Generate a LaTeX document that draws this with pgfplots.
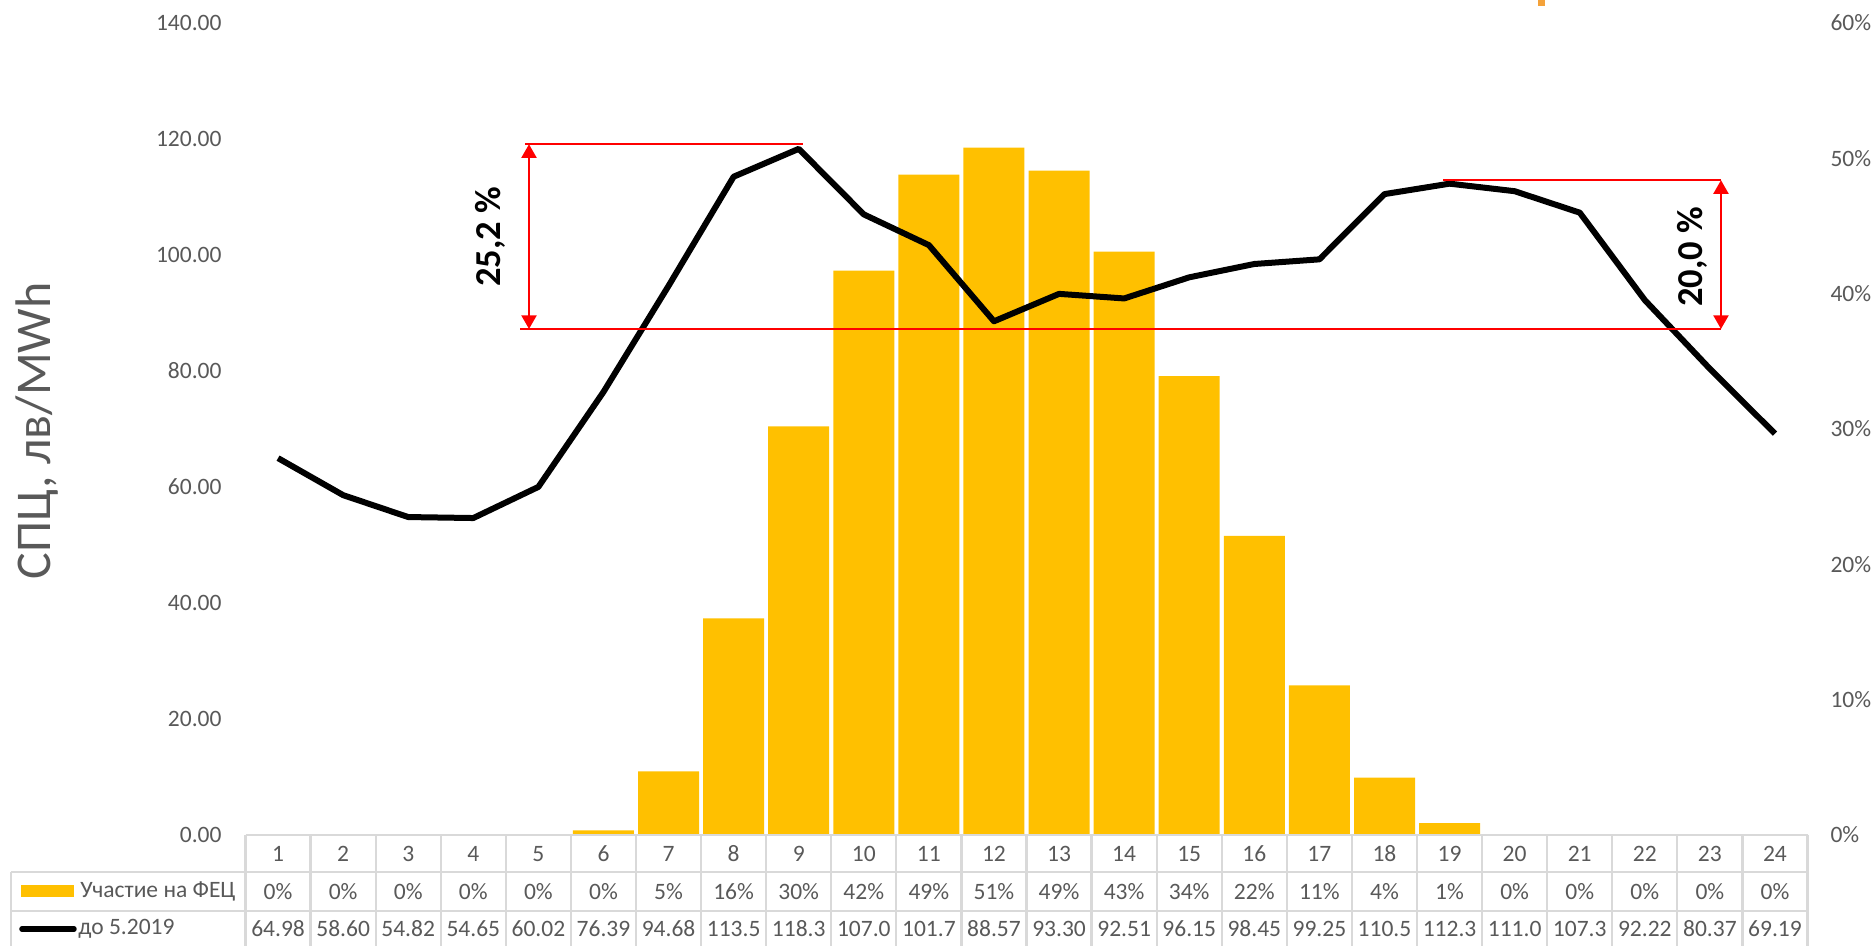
\documentclass[border=0pt]{standalone}
\usepackage{pgfplots}
\pgfplotsset{compat=1.18}
\usepackage{pgfplotstable}
\usepackage{fontspec}
\setmainfont{Carlito}
\usetikzlibrary{arrows.meta}
\definecolor{barc}{HTML}{FFC000}
\definecolor{txt}{HTML}{595959}
\definecolor{gridc}{HTML}{D9D9D9}
\definecolor{topc}{HTML}{F4A23A}

% hour, share of PV (%), price
\pgfplotstableread{
h pct spc
1 0 64.98
2 0 58.60
3 0 54.82
4 0 54.65
5 0 60.02
6 0.35 76.39
7 4.7 94.68
8 16.0 113.5
9 30.2 118.3
10 41.7 107.0
11 48.8 101.7
12 50.8 88.57
13 49.1 93.30
14 43.1 92.51
15 33.9 96.15
16 22.1 98.45
17 11.05 99.25
18 4.24 110.5
19 0.88 112.3
20 0 111.0
21 0 107.3
22 0 92.22
23 0 80.37
24 0 69.19
}\datatbl

\newcommand{\tfont}{\fontsize{9.4bp}{11bp}\selectfont}

\begin{document}
\begin{tikzpicture}
\pgfplotsset{base/.style={
    scale only axis, width=624.8bp, height=324.8bp,
    xmin=0.5, xmax=24.5, xtick=\empty,
    axis line style={draw=none}, major tick length=0pt,
    tick label style={font=\tfont, text=txt},
    clip=false}}

\begin{axis}[base,
    ymin=0, ymax=60, ytick={0,10,...,60},
    yticklabels={0\%,10\%,20\%,30\%,40\%,50\%,60\%},
    yticklabel pos=right,
    yticklabel style={anchor=west, inner sep=0pt, xshift=9bp}]
\addplot[ybar, bar width=24.4bp, bar shift=0pt, fill=barc, draw=none]
    table[x=h, y=pct]{\datatbl};
\end{axis}

\begin{axis}[base,
    ymin=0, ymax=140, ytick={0,20,...,140},
    yticklabels={0.00,20.00,40.00,60.00,80.00,100.00,120.00,140.00},
    yticklabel pos=left,
    yticklabel style={anchor=east, inner sep=0pt, xshift=-9.4bp},
    ylabel={СПЦ, лв/MWh},
    ylabel style={at={(axis description cs:-0.1335,0.4975)}, anchor=center,
        font=\fontsize{20bp}{24bp}\selectfont, text=txt}]
\addplot[black, line width=2.4bp, line join=round] table[x=h, y=spc]{\datatbl};

% annotations
\draw[red, line width=1bp] (axis cs:4.795,119.1) -- (axis cs:9.067,119.1);
\draw[red, line width=1bp] (axis cs:4.72,87.24) -- (axis cs:23.17,87.24);
\draw[red, line width=1bp] (axis cs:18.90,112.9) -- (axis cs:23.17,112.9);
\draw[red, line width=1bp, {Triangle[width=6bp,length=5.5bp]}-{Triangle[width=6bp,length=5.5bp]}]
    (axis cs:4.856,119.1) -- (axis cs:4.856,87.24);
\draw[red, line width=1bp, {Triangle[width=6bp,length=5.5bp]}-{Triangle[width=6bp,length=5.5bp]}]
    (axis cs:23.17,112.9) -- (axis cs:23.17,87.24);
\node[rotate=90, font=\fontsize{14.6bp}{17bp}\selectfont\bfseries] at (axis cs:4.26,103.1) {25,2 \%};
\node[rotate=90, font=\fontsize{14.6bp}{17bp}\selectfont\bfseries] at (axis cs:22.73,99.66) {20,0 \%};
\end{axis}

% data table below the plot, in pixel units of the reference
\begin{scope}[shift={(-98.2bp,334bp)}, x=0.4bp, y=-0.4bp]
\draw[gridc, line width=0.9bp] (245.5,835) -- (1807.5,835);
\draw[gridc, line width=0.9bp] (11,872) -- (1807.5,872);
\draw[gridc, line width=0.9bp] (11,911) -- (1807.5,911);
\draw[gridc, line width=0.9bp] (11,872) -- (11,950);
\foreach \k in {0,...,24}
  \draw[gridc, line width=0.9bp] ({245.5+\k*65.083},835) -- ({245.5+\k*65.083},950);
\foreach \i in {1,...,24}
  \node[font=\tfont, text=txt] at ({245.5+(\i-0.5)*65.083},854) {\i};
\foreach \v [count=\i] in {0\%,0\%,0\%,0\%,0\%,0\%,5\%,16\%,30\%,42\%,49\%,51\%,49\%,43\%,34\%,22\%,11\%,4\%,1\%,0\%,0\%,0\%,0\%,0\%}
  \node[font=\tfont, text=txt] at ({245.5+(\i-0.5)*65.083},891.5) {\v};
\foreach \v [count=\i] in {64.98,58.60,54.82,54.65,60.02,76.39,94.68,113.5,118.3,107.0,101.7,88.57,93.30,92.51,96.15,98.45,99.25,110.5,112.3,111.0,107.3,92.22,80.37,69.19}
  \node[font=\tfont, text=txt] at ({245.5+(\i-0.5)*65.083},929) {\v};
\fill[barc] (21,885) rectangle (74,897);
\node[font=\tfont, text=txt, anchor=west, inner sep=0pt] at (80,891.5) {Участие на ФЕЦ};
\draw[black, line width=2.2bp, line cap=round] (22,929) -- (74,929);
\node[font=\tfont, text=txt, anchor=west, inner sep=0pt] at (78,929) {до 5.2019};
\fill[topc] (1538,-2) rectangle (1545,6);
\pgfresetboundingbox
\path[use as bounding box] (0,0) rectangle (1875,945);
\end{scope}
\end{tikzpicture}
\end{document}
